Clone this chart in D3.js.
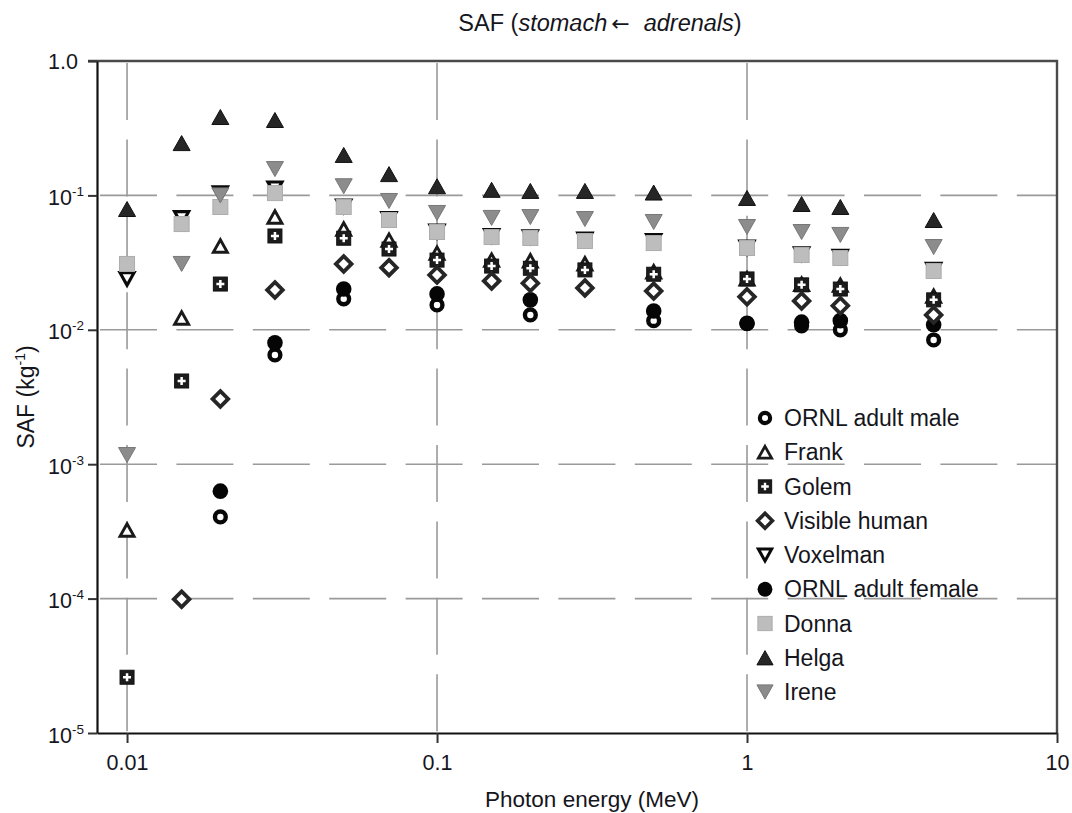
<!DOCTYPE html>
<html>
<head>
<meta charset="utf-8">
<script src="https://cdn.jsdelivr.net/npm/d3@7"></script>
<style>
  html, body { margin: 0; padding: 0; background: #fff; }
  svg { display: block; font-family: "Liberation Sans", Arial, Helvetica, sans-serif; }
</style>
</head>
<body>
<svg id="chart" width="1072" height="813"></svg>
<script>
// Photon energies (MeV) shared by all phantoms
const energy = [0.01, 0.015, 0.02, 0.03, 0.05, 0.07, 0.1, 0.15, 0.2, 0.3, 0.5, 1, 1.5, 2, 4];

// Specific absorbed fractions, SAF (kg^-1); null = not computed at that energy
const ornlMale    = [null, null, 0.000405, 0.0065, 0.0170, null, 0.0153, null, 0.0129, null, 0.0117, 0.0111, 0.0107, 0.0100, 0.0084];
const frank       = [0.000324, 0.01225, 0.042, 0.069, 0.0562, 0.0465, 0.0372, 0.0330, 0.0326, 0.0310, 0.0270, 0.0240, 0.0218, 0.0215, 0.0178];
const golem       = [2.6e-5, 0.00416, 0.0219, 0.0499, 0.0480, 0.0399, 0.0330, 0.0298, 0.0287, 0.0279, 0.0259, 0.0239, 0.0216, 0.0201, 0.0167];
const visibleHuman= [null, 9.9e-5, 0.00306, 0.0198, 0.0309, 0.0290, 0.0256, 0.0231, 0.0222, 0.0205, 0.0194, 0.0176, 0.0164, 0.0151, 0.0129];
const voxelman    = [0.0239, 0.068, 0.104, 0.113, 0.083, 0.067, 0.054, 0.050, 0.049, 0.047, 0.046, 0.041, 0.0366, 0.035, 0.028];
const ornlFemale  = [null, null, 0.00063, 0.0080, 0.0201, null, 0.0185, null, 0.0167, null, 0.0138, 0.0112, 0.0114, 0.0117, 0.0109];
const donna       = [0.0309, 0.0612, 0.082, 0.104, 0.082, 0.0656, 0.0534, 0.049, 0.0482, 0.0458, 0.0442, 0.0406, 0.036, 0.0342, 0.0274];
const helga       = [0.0792, 0.245, 0.383, 0.364, 0.200, 0.144, 0.117, 0.110, 0.108, 0.108, 0.105, 0.0957, 0.0863, 0.082, 0.0656];
const irene       = [0.00117, 0.0309, 0.100, 0.157, 0.117, 0.0909, 0.074, 0.068, 0.069, 0.0667, 0.0634, 0.0582, 0.0534, 0.0508, 0.0413];

// Axis ticks
const xTicks = [0.01, 0.1, 1, 10];
const xTickLabels = ["0.01", "0.1", "1", "10"];
const yTicks = [1e-5, 1e-4, 1e-3, 1e-2, 1e-1, 1];
const yTickLabels = [["10", "-5"], ["10", "-4"], ["10", "-3"], ["10", "-2"], ["10", "-1"], ["1.0", ""]];

// Legend order
const seriesNames = ["ORNL adult male", "Frank", "Golem", "Visible human", "Voxelman",
                     "ORNL adult female", "Donna", "Helga", "Irene"];

const svg = d3.select("#chart");
const plotLeft = 97, plotRight = 1057, plotTop = 61, plotBottom = 733;
const ink = "#15151c";

const x = d3.scaleLog().domain([0.008, 10]).range([plotLeft, plotRight]);
const y = d3.scaleLog().domain([1e-5, 1]).range([plotBottom, plotTop]);

// ---- marker glyphs -------------------------------------------------------
function triUp(w, h) { return `M0,${-h/2}L${w/2},${h/2}L${-w/2},${h/2}Z`; }
function triDown(w, h) { return `M0,${h/2}L${w/2},${-h/2}L${-w/2},${-h/2}Z`; }
function diamond(r) { return `M0,${-r}L${r},0L0,${r}L${-r},0Z`; }

const glyphs = {
  "ORNL adult male": (g, s) => {
    g.append("circle").attr("r", 5.4 * s).attr("fill", "#fff").attr("stroke", "#080808").attr("stroke-width", 4.4 * s);
  },
  "Frank": (g, s) => {
    g.append("path").attr("d", triUp(14 * s, 12.5 * s)).attr("fill", "#fff").attr("stroke", "#1a1a1a").attr("stroke-width", 2.9 * s).attr("stroke-linejoin", "miter");
  },
  "Golem": (g, s) => {
    g.append("rect").attr("x", -7 * s).attr("y", -7 * s).attr("width", 14 * s).attr("height", 14 * s)
      .attr("fill", "#1c1c1c").attr("stroke", "#111").attr("stroke-width", 1);
    g.append("path").attr("d", `M${-4 * s},0H${4 * s}M0,${-4 * s}V${4 * s}`)
      .attr("stroke", "#fff").attr("stroke-width", 2.5 * s);
  },
  "Visible human": (g, s) => {
    g.append("path").attr("d", diamond(7.8 * s)).attr("fill", "#fff").attr("stroke", "#262626").attr("stroke-width", 3.8 * s).attr("stroke-linejoin", "miter");
  },
  "Voxelman": (g, s) => {
    g.append("path").attr("d", triDown(14 * s, 12.5 * s)).attr("fill", "#fff").attr("stroke", "#0a0a0a").attr("stroke-width", 3.2 * s).attr("stroke-linejoin", "miter");
  },
  "ORNL adult female": (g, s) => {
    g.append("circle").attr("r", 7.8 * s).attr("fill", "#050505");
  },
  "Donna": (g, s) => {
    g.append("rect").attr("x", -7.5 * s).attr("y", -7.5 * s).attr("width", 15 * s).attr("height", 15 * s)
      .attr("fill", "#bdbdbd").attr("stroke", "#acacac").attr("stroke-width", 1);
  },
  "Helga": (g, s) => {
    g.append("path").attr("d", triUp(17 * s, 15 * s)).attr("fill", "#262626").attr("stroke", "#111").attr("stroke-width", 1);
  },
  "Irene": (g, s) => {
    g.append("path").attr("d", triDown(17 * s, 15 * s)).attr("fill", "#8c8c8c").attr("stroke", "#777").attr("stroke-width", 1);
  }
};

const seriesValues = {
  "ORNL adult male": ornlMale, "Frank": frank, "Golem": golem, "Visible human": visibleHuman,
  "Voxelman": voxelman, "ORNL adult female": ornlFemale, "Donna": donna, "Helga": helga, "Irene": irene
};

// ---- grid ----------------------------------------------------------------
const grid = svg.append("g").attr("stroke", "#9a9a9a").attr("stroke-width", 1.6)
  .attr("stroke-dasharray", "57,19.4").attr("fill", "none");
grid.selectAll("line.h").data(yTicks.filter(v => v > 1e-5 && v < 1)).join("line")
  .attr("class", "h")
  .attr("x1", plotLeft + 3).attr("x2", plotRight).attr("y1", d => y(d)).attr("y2", d => y(d));
grid.selectAll("line.v").data(xTicks.filter(v => v < 10)).join("line")
  .attr("class", "v")
  .attr("y1", plotTop + 2).attr("y2", plotBottom).attr("x1", d => x(d)).attr("x2", d => x(d));

// ---- frame: top and right edges ------------------------------------------
svg.append("path")
  .attr("d", `M${plotLeft - 9},${plotTop}H${plotRight}V${plotBottom}`)
  .attr("fill", "none").attr("stroke", "#4a4a4a").attr("stroke-width", 2.4);

// ---- axes ----------------------------------------------------------------
const xAxis = d3.axisBottom(x).tickValues(xTicks).tickSize(10).tickSizeOuter(0).tickPadding(12)
  .tickFormat((d, i) => xTickLabels[i]);
const gx = svg.append("g").attr("transform", `translate(0,${plotBottom})`).call(xAxis);

const yAxis = d3.axisLeft(y).tickValues(yTicks).tickSize(9).tickSizeOuter(0).tickPadding(5)
  .tickFormat(() => "");
const gy = svg.append("g").attr("transform", `translate(${plotLeft},0)`).call(yAxis);

[gx, gy].forEach(g => {
  g.select(".domain").attr("stroke", "#111").attr("stroke-width", 2.2);
  g.selectAll(".tick line").attr("stroke", "#333").attr("stroke-width", 2);
});
gx.selectAll(".tick text").attr("font-size", 21.5).attr("fill", ink)
  .attr("font-family", "'Liberation Sans', Arial, sans-serif");

// y tick labels with superscript exponents
gy.selectAll(".tick text").each(function (d, i) {
  const t = d3.select(this)
    .attr("font-size", 21.5).attr("fill", ink).attr("x", -14).attr("dy", "0.36em")
    .attr("font-family", "'Liberation Sans', Arial, sans-serif");
  const [base, sup] = yTickLabels[i];
  if (sup) {
    t.attr("x", -13).attr("dy", "0.42em");
    t.append("tspan").text(base);
    t.append("tspan").text(sup).attr("font-size", 13.5).attr("dy", "-9");
  } else {
    t.attr("x", -19);
    t.append("tspan").text(base);
  }
});

// ---- data markers --------------------------------------------------------
const drawOrder = ["Voxelman", "Frank", "ORNL adult male", "ORNL adult female", "Golem",
                   "Visible human", "Donna", "Irene", "Helga"];
drawOrder.forEach(name => {
  const vals = seriesValues[name];
  const pts = energy.map((e, i) => ({ e, v: vals[i] })).filter(p => p.v != null);
  svg.append("g").attr("class", "series")
    .selectAll("g").data(pts).join("g")
    .attr("transform", p => `translate(${x(p.e)},${y(p.v)})`)
    .each(function () { glyphs[name](d3.select(this), 1); });
});

// ---- legend --------------------------------------------------------------
const legend = svg.append("g").attr("transform", "translate(765,418)");
seriesNames.forEach((name, i) => {
  const row = legend.append("g").attr("transform", `translate(0,${i * 34.25})`);
  glyphs[name](row.append("g"), 0.95);
  row.append("text").attr("x", 19).attr("y", 8).attr("font-size", 23).attr("fill", ink).text(name);
});

// ---- titles --------------------------------------------------------------
const title = svg.append("text").attr("x", 600).attr("y", 31).attr("text-anchor", "middle")
  .attr("font-size", 23.5).attr("fill", ink);
title.append("tspan").text("SAF (");
title.append("tspan").attr("font-style", "italic").text("stomach");
title.append("tspan").attr("font-family", "'DejaVu Sans', sans-serif").attr("font-size", 22).attr("dx", 4).text("\u2190");
title.append("tspan").attr("font-style", "italic").attr("dx", 14).text("adrenals");
title.append("tspan").text(")");

svg.append("text").attr("x", 592).attr("y", 807).attr("text-anchor", "middle")
  .attr("font-size", 22.5).attr("fill", ink).text("Photon energy (MeV)");

const yTitle = svg.append("text").attr("transform", "translate(34,397) rotate(-90)")
  .attr("text-anchor", "middle").attr("font-size", 23).attr("fill", ink);
yTitle.append("tspan").text("SAF (kg");
yTitle.append("tspan").text("-1").attr("font-size", 14).attr("dy", -9);
yTitle.append("tspan").text(")").attr("dy", 9);
</script>
</body>
</html>
